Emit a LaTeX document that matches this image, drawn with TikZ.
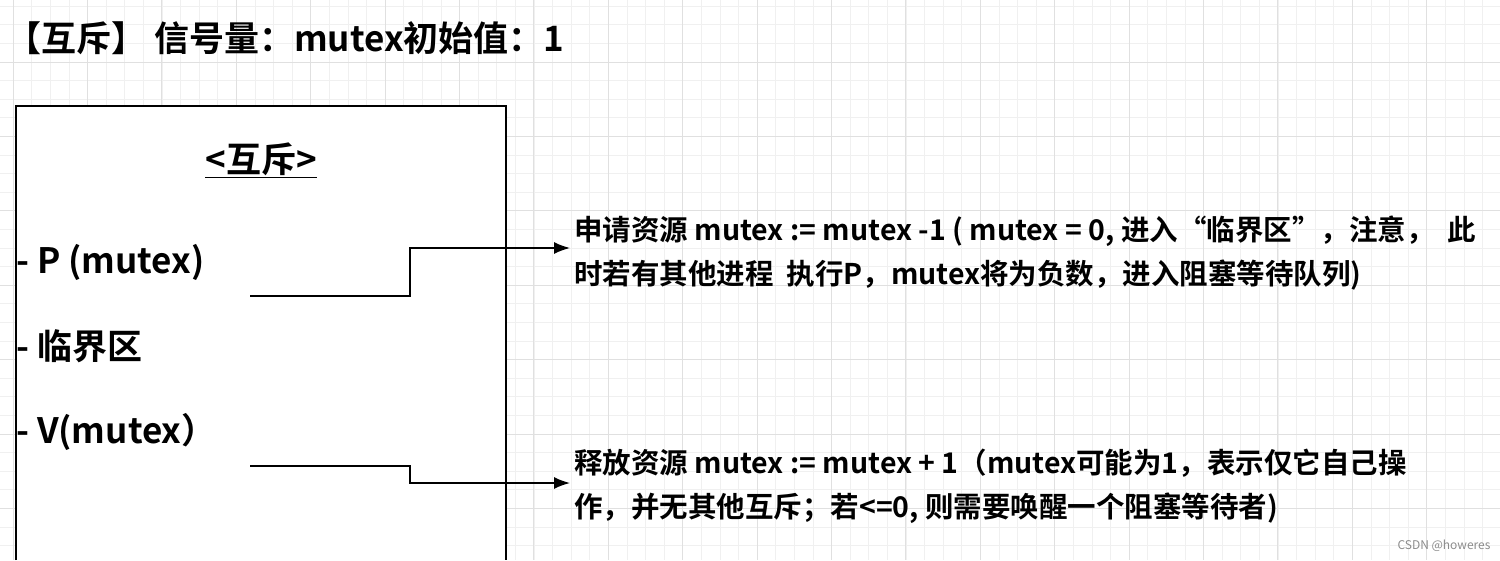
\documentclass[tikz,border=0pt]{standalone}
\usepackage{fontspec}
\setmainfont{Noto Sans CJK SC}[BoldFont={* Bold}]
\newfontfamily\cjkb{Noto Sans CJK SC Bold}
\usetikzlibrary{arrows.meta}
\begin{document}
\begin{tikzpicture}[x=1pt,y=-1pt,
  txt/.style={anchor=west,inner sep=0pt,font=\cjkb\fontsize{28.5}{44}\selectfont},
  big/.style={txt,font=\cjkb\fontsize{35}{40}\selectfont},
  conn/.style={line width=1.5pt,-{Latex[length=16pt,width=12pt]}}]
\useasboundingbox (0,0) rectangle (1500,560);
\fill[white] (0,0) rectangle (1500,560);
\foreach \x in {0,...,80} \draw[black!6,line width=0.6pt] ({13+\x*18.6},0) -- ({13+\x*18.6},560);
\foreach \y in {0,...,30} \draw[black!6,line width=0.6pt] (0,{6+\y*18.6}) -- (1500,{6+\y*18.6});
\foreach \x in {0,...,20} \draw[black!12,line width=0.8pt] ({13+\x*74.4},0) -- ({13+\x*74.4},560);
\foreach \y in {0,...,7} \draw[black!12,line width=0.8pt] (0,{62+\y*74.4}) -- (1500,{62+\y*74.4});
\node[big] (title) at (6,38) {【互斥】 信号量：mutex初始值：1};
\draw[fill=white,line width=1.6pt] (16,560) -- (16,106) -- (506,106) -- (506,560);
\node[big,anchor=center] (hd) at (261,160) {\underline{<互斥>}};
\node[big] (p) at (16,262) {- P (mutex)};
\node[big] (c) at (16,346) {- 临界区};
\node[big] (v) at (16,432) {- V(mutex）};
\coordinate (ps) at (250,296);
\coordinate (vs) at (250,466);
\node[txt,align=left,anchor=north west] (pt) at (574,216) {申请资源 mutex := mutex -1 ( mutex = 0, 进入“临界区”，注意，\ \ 此\\时若有其他进程\ \ 执行P，mutex将为负数，进入阻塞等待队列)};
\node[txt,align=left,anchor=north west] (vt) at (574,449) {释放资源 mutex := mutex + 1（mutex可能为1，表示仅它自己操\\作，并无其他互斥；若<=0, 则需要唤醒一个阻塞等待者)};
\draw[conn] (ps) -- (410,296) -- (410,248) -- (570,248);
\draw[conn] (vs) -- (410,466) -- (410,483) -- (570,483);
\node[anchor=east,text=black!45,font=\fontsize{12}{14}\selectfont] (wm) at (1494,546) {CSDN @howeres};
\end{tikzpicture}
\end{document}
